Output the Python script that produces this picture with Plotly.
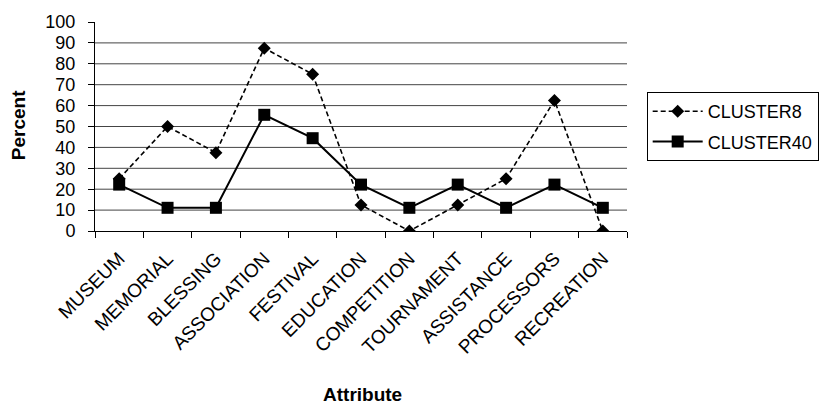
import plotly.graph_objects as go

attributes = ["MUSEUM", "MEMORIAL", "BLESSING", "ASSOCIATION", "FESTIVAL",
              "EDUCATION", "COMPETITION", "TOURNAMENT", "ASSISTANCE",
              "PROCESSORS", "RECREATION"]
cluster8 = [25.0, 50.0, 37.5, 87.5, 75.0, 12.5, 0.0, 12.5, 25.0, 62.5, 0.0]
cluster40 = [22.2, 11.1, 11.1, 55.6, 44.4, 22.2, 11.1, 22.2, 11.1, 22.2, 11.1]
y_ticks = list(range(0, 101, 10))
grid_levels = list(range(10, 100, 10))

FONT = "Arial, Liberation Sans, sans-serif"

fig = go.Figure()
fig.add_trace(go.Scatter(
    x=attributes, y=cluster8, name="CLUSTER8", mode="lines+markers",
    line=dict(color="black", width=1.6, dash="5px,3px"),
    marker=dict(symbol="diamond", size=10, color="black"),
    legendgroup="a",
))
fig.add_trace(go.Scatter(
    x=attributes, y=cluster40, name="CLUSTER40", mode="lines+markers",
    line=dict(color="black", width=2),
    marker=dict(symbol="square", size=12, color="black"),
    legendgroup="b",
))

# horizontal gridlines between 0 and 100
for g in grid_levels:
    fig.add_shape(type="line", xref="paper", x0=0, x1=1, yref="y", y0=g, y1=g,
                  line=dict(color="#444", width=1), layer="below")

fig.update_layout(
    width=831, height=411,
    margin=dict(l=95, r=203, t=16, b=180),
    paper_bgcolor="white", plot_bgcolor="white",
    font=dict(family=FONT, color="black", size=18),
    showlegend=True,
    legend=dict(
        x=1.037, y=0.665, xanchor="left", yanchor="top",
        bordercolor="black", borderwidth=1, bgcolor="white",
        font=dict(size=18, family=FONT), itemwidth=50,
        tracegroupgap=4,
    ),
    xaxis=dict(
        range=[-0.5, 10.5], showgrid=False, showline=True, linecolor="black",
        linewidth=1, ticks="outside", tickson="boundaries", ticklen=6,
        tickcolor="black", tickangle=-45, tickfont=dict(size=19),
        ticklabelstandoff=8, zeroline=False,
    ),
    yaxis=dict(
        range=[0, 100], tickvals=y_ticks, showgrid=False, showline=True,
        linecolor="black", linewidth=1, ticks="outside", ticklen=6,
        tickcolor="black", tickfont=dict(size=18), ticklabelstandoff=9,
        zeroline=False,
    ),
    annotations=[
        dict(text="<b>Percent</b>", textangle=-90, x=18, y=122,
             xref="paper", yref="paper", showarrow=False,
             xanchor="center", yanchor="middle", font=dict(size=19)),
        dict(text="<b>Attribute</b>", x=363, y=399,
             xref="paper", yref="paper", showarrow=False,
             xanchor="center", yanchor="middle", font=dict(size=19)),
    ],
)

# place axis titles in pixel terms
pw, ph = 831 - 95 - 203, 411 - 16 - 180
for ann in fig.layout.annotations:
    ann.x = (ann.x - 95) / pw
    ann.y = (411 - 180 - ann.y) / ph

fig.write_html("out.html")
